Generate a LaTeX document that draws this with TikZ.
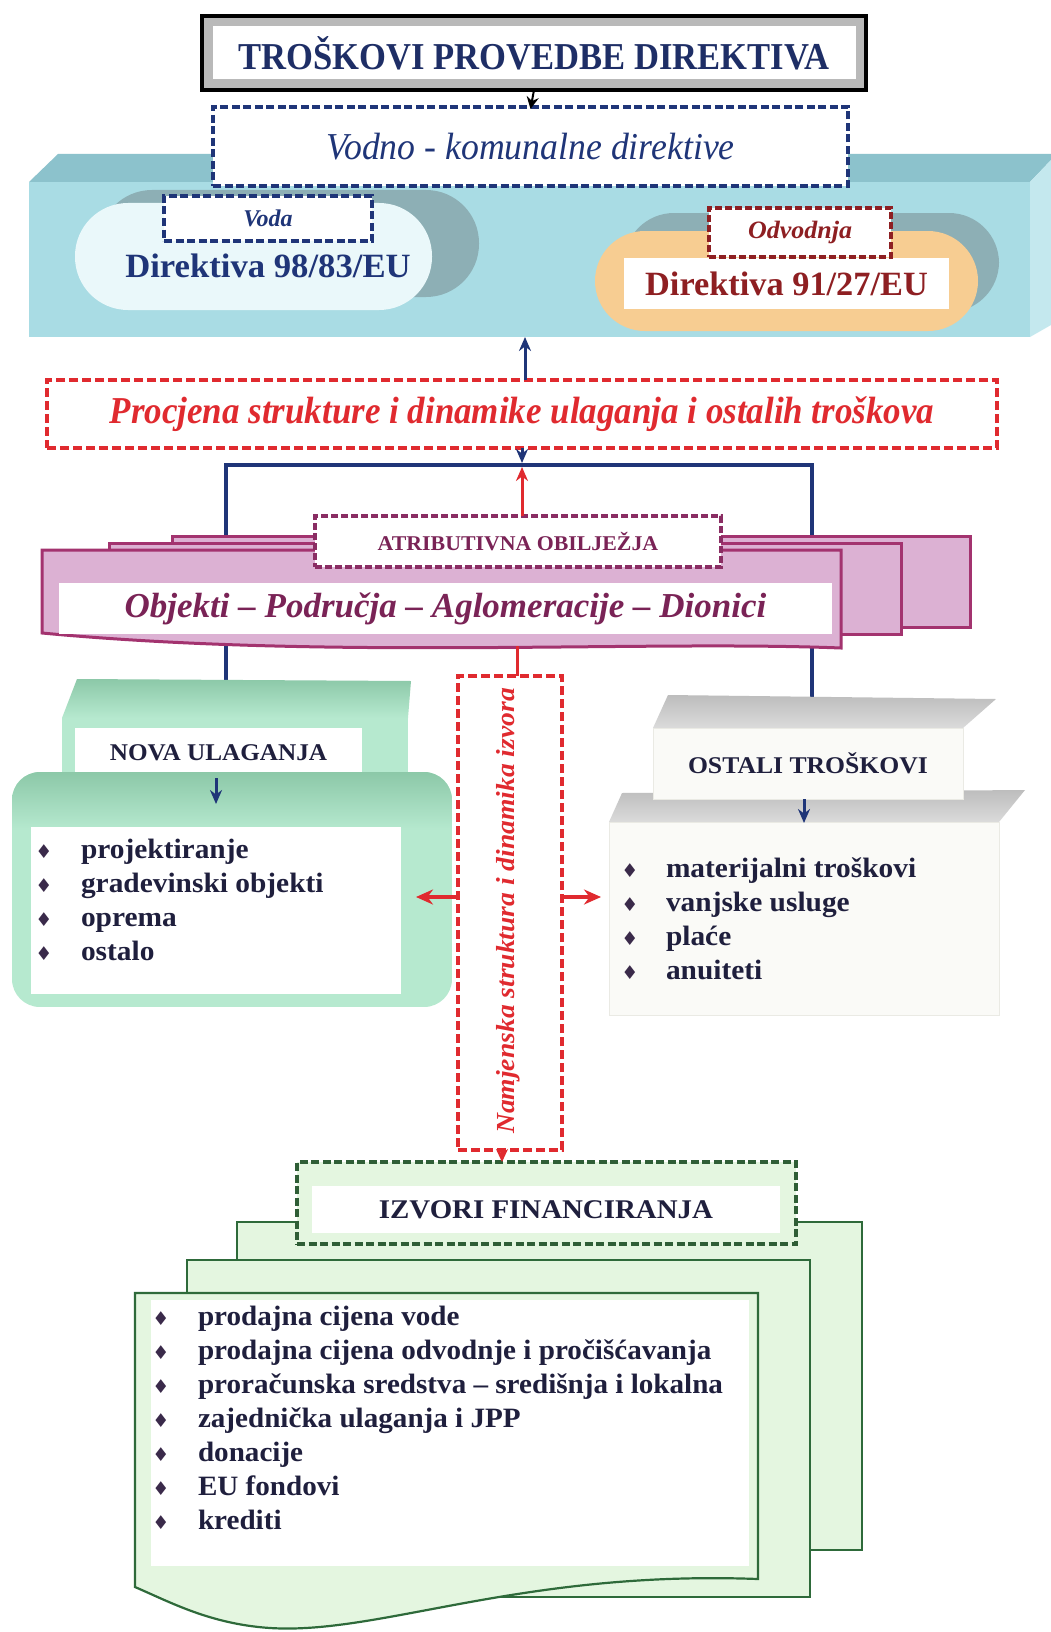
\documentclass[tikz,border=0pt]{standalone}
\usepackage{fontspec}
\setmainfont{Liberation Serif}
\newfontfamily\djv{DejaVu Sans}
\usepackage{graphicx}
\usetikzlibrary{arrows.meta,calc}
\definecolor{navy}{HTML}{1F3578}
\definecolor{tnavy}{HTML}{1E2E66}
\definecolor{rred}{HTML}{E02A2F}
\definecolor{dred}{HTML}{8E1F22}
\definecolor{slabfront}{HTML}{A9DCE4}
\definecolor{slabtop}{HTML}{8CC2CC}
\definecolor{slabside}{HTML}{C4E8EE}
\definecolor{shadowg}{HTML}{8DAFB5}
\definecolor{capblue}{HTML}{EAF8FA}
\definecolor{caporange}{HTML}{F7CD92}
\definecolor{pinkfill}{HTML}{DCB1D3}
\definecolor{pinkline}{HTML}{A3336F}
\definecolor{pinktext}{HTML}{7A2356}
\definecolor{pinkdash}{HTML}{8A2D63}
\definecolor{mint}{HTML}{B6E9CF}
\definecolor{mintdark}{HTML}{8CC8A8}
\definecolor{greyfront}{HTML}{FAFAF7}
\definecolor{greyline}{HTML}{EAEAE4}
\definecolor{greytop}{HTML}{BDBDBD}
\definecolor{pagegreen}{HTML}{E4F6E0}
\definecolor{pageline}{HTML}{2E6A3A}
\definecolor{dgreen}{HTML}{2F5E36}
\definecolor{itemtext}{HTML}{1F1F3D}
\definecolor{bulc}{HTML}{3A2A4A}
\definecolor{titlegrey}{HTML}{B9B9B9}
\newcommand{\xs}[2]{\scalebox{#1}[1]{#2}}
\newcommand{\fsz}[1]{\fontsize{#1}{#1}\selectfont}
\newcommand{\bul}{\makebox[12pt][c]{\color{bulc}\djv\fontsize{19}{19}\selectfont ♦}}
\begin{document}
\begin{tikzpicture}[x=1pt,y=-1pt,
  plain/.style={inner sep=0pt, outer sep=0pt},
  txt/.style={inner sep=0pt, outer sep=0pt, align=center},
  ndash/.style={draw=navy, line width=3.4pt, dash pattern=on 8pt off 3.5pt, fill=white, inner sep=0pt, outer sep=0pt},
  rdash/.style={draw=rred, line width=3.4pt, dash pattern=on 9pt off 4pt, fill=white, inner sep=0pt, outer sep=0pt},
  ddash/.style={draw=dred, line width=3.4pt, dash pattern=on 7pt off 3pt, fill=white, inner sep=0pt, outer sep=0pt},
  pdash/.style={draw=pinkdash, line width=3.4pt, dash pattern=on 7pt off 3pt, fill=white, inner sep=0pt, outer sep=0pt},
  gdash/.style={draw=dgreen, line width=3.4pt, dash pattern=on 8pt off 3.5pt, fill=pagegreen, inner sep=0pt, outer sep=0pt},
  navyline/.style={draw=navy, line width=3.8pt},
  navyarrow/.style={draw=navy, line width=3pt, -{Stealth[length=14pt,width=12pt]}},
  redarrow/.style={draw=rred, line width=3pt, -{Stealth[length=14pt,width=12pt]}},
  bigred/.style={draw=rred, line width=4.5pt, -{Stealth[length=17pt,width=15pt]}},
  page/.style={draw=pageline, line width=2.2pt, fill=pagegreen},
  pinkpage/.style={draw=pinkline, line width=3pt, fill=pinkfill},
  itemlist/.style={plain, anchor=base west, text=itemtext, font=\fontsize{28}{34}\selectfont\bfseries},
]
\useasboundingbox (0,0) rectangle (1051,1632);
\fill[white] (0,0) rectangle (1051,1632);

% ---- slab
\fill[slabtop] (29,182) -- (58,154) -- (1051,154) -- (1051,160) -- (1030,182) -- cycle;
\fill[slabfront] (29,182) rectangle (1030,337);
\fill[slabside] (1030,182) -- (1051,160) -- (1051,325) -- (1030,337) -- cycle;

% ---- capsules
\fill[shadowg, rounded corners=53pt] (99,190) rectangle (479,297);
\node[plain, fill=capblue, rounded corners=53pt, minimum width=357pt, minimum height=107pt] (cap1) at (253.5,256.5) {};
\fill[shadowg, rounded corners=50pt] (624,213) rectangle (999,312);
\node[plain, fill=caporange, rounded corners=50pt, minimum width=383pt, minimum height=100pt] (cap2) at (786.5,281) {};
\node[txt, text=navy, font=\fsz{34}\bfseries] (dir1) at (268,266) {\xs{1.02}{Direktiva 98/83/EU}};
\node[plain, fill=white, minimum width=325pt, minimum height=51pt, text=dred, font=\fsz{34}\bfseries] (dir2) at (786.5,283.5) {\xs{1.01}{Direktiva 91/27/EU}};
\node[ndash, minimum width=208pt, minimum height=45pt, text=navy, font=\fsz{24}\bfseries\itshape] (voda) at (268,218.5) {Voda};
\node[ddash, minimum width=182pt, minimum height=49pt, text=dred, font=\fsz{25}\bfseries\itshape] (odv) at (800,232.5) {\xs{1.04}{Odvodnja}};

% ---- title
\node[plain, draw=titlegrey, line width=9pt, fill=white, minimum width=652pt, minimum height=62pt, text=tnavy, font=\fsz{38}\bfseries] (title) at (534,53) {\xs{0.91}{TROŠKOVI PROVEDBE DIREKTIVA}};
\draw[line width=4pt] ($(title.north west)+(-6,-6)$) rectangle ($(title.south east)+(6,6)$);
\node[ndash, minimum width=635pt, minimum height=79pt, text=navy, font=\fsz{38}\itshape] (vodno) at (530.5,146.5) {\xs{0.94}{Vodno - komunalne direktive}};
\coordinate (tb) at ($(title.south)+(0,6)$);
\draw[-{Stealth[length=12pt,width=12pt]}, line width=2pt] (tb) -- ($(vodno.north)+(0,2)$);

% ---- procjena
\node[rdash, minimum width=950pt, minimum height=68pt, text=rred, font=\fsz{38}\bfseries\itshape] (proc) at (522,414) {\xs{0.92}{Procjena strukture i dinamike ulaganja i ostalih troškova}};
\coordinate (slabb) at (525,337);
\draw[navyarrow] (proc.north -| slabb) -- (slabb);

% ---- navy bracket
\coordinate (bl) at (226,465);
\coordinate (br) at (812,465);
\coordinate (bm) at (522,463);
\coordinate (bm2) at (522,467);
\coordinate (nl) at (226,681);
\coordinate (nr) at (812,697);
\draw[navyline] (nl) -- (bl) -- (br) -- (nr);
\draw[navyarrow] (proc.south -| bm) -- (bm);

% ---- pink pages
\draw[pinkpage] (172,536) rectangle (970,627);
\draw[pinkpage] (109,543) rectangle (901,634);
\draw[pinkpage] (42,550) -- (841,550) -- (841,648) .. controls (640,640) and (330,660) .. (42,633) -- cycle;
\node[plain, fill=white, minimum width=773pt, minimum height=51pt, text=pinktext, font=\fsz{35}\bfseries\itshape] (objekti) at (445.5,608.5) {Objekti – Područja – Aglomeracije – Dionici};
\node[pdash, minimum width=406pt, minimum height=51pt, text=pinktext, font=\fsz{21}\bfseries] (atrib) at (518,541.5) {\xs{1.04}{ATRIBUTIVNA OBILJEŽJA}};
\draw[redarrow] (atrib.north -| bm2) -- (bm2);

% ---- nova ulaganja
\shade[top color=mintdark, bottom color=mint] (62,718) -- (77,679) -- (411,681) -- (408,718) -- cycle;
\fill[mint] (62,718) rectangle (408,778);
\node[plain, fill=white, minimum width=287pt, minimum height=50pt, text=itemtext, font=\fsz{24}\bfseries] (nova) at (218.5,753) {\xs{1.05}{NOVA ULAGANJA}};
\begin{scope}
\clip[rounded corners=28pt] (12,772) rectangle (452,1007);
\fill[mint] (12,772) rectangle (452,1007);
\shade[top color=mintdark, bottom color=mint] (12,772) rectangle (452,830);
\end{scope}
\node[plain, fill=white, minimum width=370pt, minimum height=167pt] (novabody) at (216,910.5) {};
\coordinate (na) at (216,804);
\draw[navyarrow] (nova.south -| na) -- (na);
\node[itemlist] (novalist) at (38,858) {\begin{tabular}[t]{@{}l@{\hspace{31pt}}l@{}}
\bul & \xs{1.05}{projektiranje}\\
\bul & \xs{1.05}{gradevinski objekti}\\
\bul & \xs{1.05}{oprema}\\
\bul & \xs{1.05}{ostalo}
\end{tabular}};

% ---- ostali troskovi
\shade[top color=greytop, bottom color=greytop!55] (609,822) -- (622,793) -- (1025,790) -- (999,822) -- cycle;
\shade[top color=greytop, bottom color=greytop!55] (653,728) -- (668,695) -- (996,699) -- (963,728) -- cycle;
\node[plain, fill=greyfront, draw=greyline, line width=1pt, minimum width=310pt, minimum height=71pt, text=itemtext, font=\fsz{24}\bfseries] (ostali) at (808,763.5) {\xs{1.07}{OSTALI TROŠKOVI}};
\node[plain, fill=greyfront, draw=greyline, line width=1pt, minimum width=390pt, minimum height=193pt] (ostbody) at (804,918.5) {};
\coordinate (oa) at (804,823);
\draw[navyarrow] (ostali.south -| oa) -- (oa);
\node[itemlist] (ostlist) at (624,877) {\begin{tabular}[t]{@{}l@{\hspace{30pt}}l@{}}
\bul & \xs{1.05}{materijalni troškovi}\\
\bul & \xs{1.05}{vanjske usluge}\\
\bul & \xs{1.05}{plaće}\\
\bul & \xs{1.05}{anuiteti}
\end{tabular}};

% ---- namjenska
\node[rdash, minimum width=104pt, minimum height=474pt] (nam) at (510,913) {};
\node[txt, rotate=90, text=rred, font=\fsz{26}\bfseries\itshape] (namtext) at (508,911) {\xs{1.06}{Namjenska struktura i dinamika izvora}};
\coordinate (rtop) at (517,646);
\draw[rred, line width=3pt] (rtop) -- (rtop |- nam.north);
\coordinate (la) at (416,897);
\coordinate (ra) at (601,897);
\draw[bigred] (nam.west |- la) -- (la);
\draw[bigred] (nam.east |- ra) -- (ra);

% ---- izvori
\draw[page] (237,1222) rectangle (862,1550);
\draw[page] (187,1260) rectangle (810,1597);
\draw[page] (135,1293) -- (758,1293) -- (758,1579) .. controls (520,1570) and (380,1635) .. (270,1628) .. controls (210,1624) and (170,1602) .. (135,1587) -- cycle;
\node[plain, fill=white, minimum width=598pt, minimum height=266pt] (izbody) at (450,1433) {};
\node[gdash, minimum width=499pt, minimum height=82pt] (izv) at (546.5,1203) {};
\node[plain, fill=white, minimum width=468pt, minimum height=47pt, text=itemtext, font=\fsz{27}\bfseries] (izvlbl) at (546,1209.5) {\xs{1.07}{IZVORI FINANCIRANJA}};
\coordinate (ni) at (502,1148);
\draw[rred, line width=3pt, -{Stealth[length=13pt,width=12pt]}] (ni) -- (ni |- izv.north);
\node[itemlist] (izlist) at (155,1325) {\begin{tabular}[t]{@{}l@{\hspace{31pt}}l@{}}
\bul & \xs{1.04}{prodajna cijena vode}\\
\bul & \xs{1.04}{prodajna cijena odvodnje i pročišćavanja}\\
\bul & \xs{1.04}{proračunska sredstva – središnja i lokalna}\\
\bul & \xs{1.04}{zajednička ulaganja i JPP}\\
\bul & \xs{1.04}{donacije}\\
\bul & \xs{1.04}{EU fondovi}\\
\bul & \xs{1.04}{krediti}
\end{tabular}};
\end{tikzpicture}
\end{document}
